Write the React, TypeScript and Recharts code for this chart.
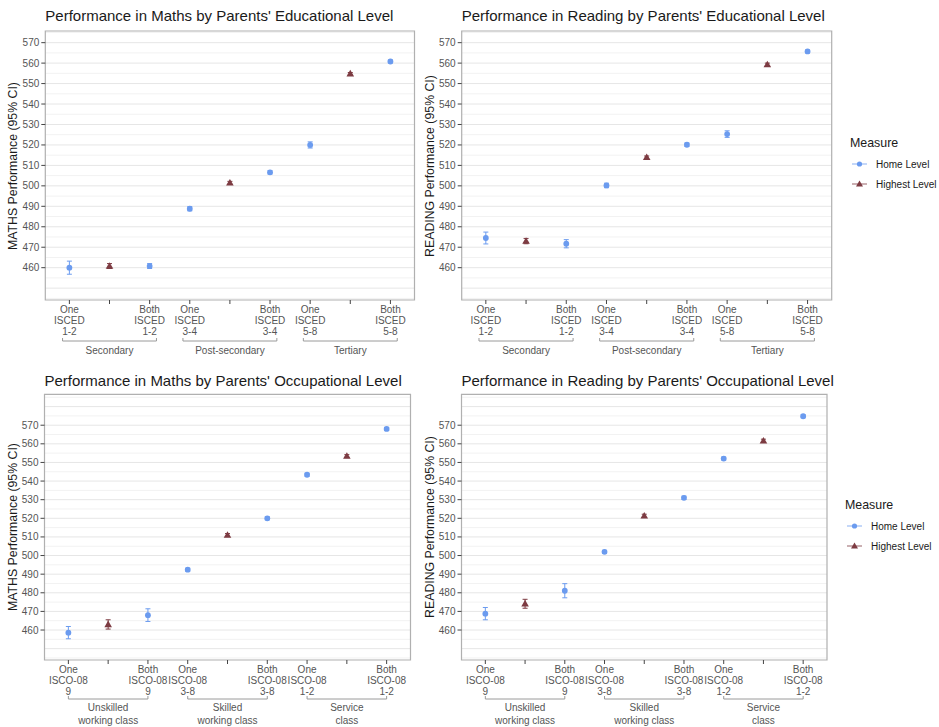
import React from 'react';
import {
  ScatterChart,
  Scatter,
  XAxis,
  YAxis,
  CartesianGrid,
  ErrorBar,
  ReferenceArea,
  Legend,
} from 'recharts';

// ---------- data ----------
const eduTickLabels = [
  'One\nISCED\n1-2', '', 'Both\nISCED\n1-2',
  'One\nISCED\n3-4', '', 'Both\nISCED\n3-4',
  'One\nISCED\n5-8', '', 'Both\nISCED\n5-8',
];
const eduGroups = ['Secondary', 'Post-secondary', 'Tertiary'];

const occTickLabels = [
  'One\nISCO-08\n9', '', 'Both\nISCO-08\n9',
  'One\nISCO-08\n3-8', '', 'Both\nISCO-08\n3-8',
  'One\nISCO-08\n1-2', '', 'Both\nISCO-08\n1-2',
];
const occGroups = ['Unskilled\nworking class', 'Skilled\nworking class', 'Service\nclass'];

const yTickValues = [460, 470, 480, 490, 500, 510, 520, 530, 540, 550, 560, 570];
const minorTopValues = [445, 455, 465, 475, 485, 495, 505, 515, 525, 535, 545, 555, 565, 575];
const majorTopValues = [450, 460, 470, 480, 490, 500, 510, 520, 530, 540, 550, 560, 570];
const minorBottomValues = [445, 455, 465, 475, 485, 495, 505, 515, 525, 535, 545, 555, 565, 575, 585];
const majorBottomValues = [450, 460, 470, 480, 490, 500, 510, 520, 530, 540, 550, 560, 570, 580];

const seriesNames = ['Home Level', 'Highest Level'];

const mathsEduHome = [460.0, null, 460.8, 488.8, null, 506.6, 520.0, null, 560.8];
const mathsEduHomeCI = [3.2, null, 1.2, 1.0, null, 0.8, 1.5, null, 0.7];
const mathsEduHighest = [null, 460.8, null, null, 501.5, null, null, 554.8, null];
const mathsEduHighestCI = [null, 1.2, null, null, 0.7, null, null, 0.6, null];

const readingEduHome = [474.5, null, 471.7, 500.2, null, 520.1, 525.3, null, 565.7];
const readingEduHomeCI = [2.9, null, 2.0, 1.1, null, 0.8, 1.6, null, 0.7];
const readingEduHighest = [null, 473.0, null, null, 513.9, null, null, 559.3, null];
const readingEduHighestCI = [null, 1.3, null, null, 0.7, null, null, 0.7, null];

const mathsOccHome = [458.6, null, 468.0, 492.4, null, 520.0, 543.4, null, 568.0];
const mathsOccHomeCI = [3.3, null, 3.4, 0.8, null, 0.8, 0.8, null, 0.8];
const mathsOccHighest = [null, 463.0, null, null, 511.0, null, null, 553.4, null];
const mathsOccHighestCI = [null, 2.5, null, null, 0.8, null, null, 0.8, null];

const readingOccHome = [468.8, null, 481.1, 502.0, null, 531.0, 552.1, null, 574.8];
const readingOccHomeCI = [3.3, null, 3.8, 0.8, null, 0.9, 0.8, null, 0.8];
const readingOccHighest = [null, 474.1, null, null, 521.3, null, null, 561.6, null];
const readingOccHighestCI = [null, 2.4, null, null, 0.9, null, null, 0.9, null];

// ---------- styles ----------
const FONT = '"Liberation Sans", Arial, sans-serif';
const HOME_COLOR = '#6b9bef';
const HIGH_COLOR = '#7d3b42';
const TEXT_DARK = '#1a1a1a';
const TEXT_GRAY = '#555555';
const X_DOMAIN: [number, number] = [0.4, 9.6];
const X_TICKS = [1, 2, 3, 4, 5, 6, 7, 8, 9];

type Pt = { x: number; y: number; err: number };
const toPoints = (vals: (number | null)[], ci: (number | null)[]): Pt[] =>
  vals
    .map((v, i) => (v == null ? null : { x: i + 1, y: v, err: ci[i] ?? 0 }))
    .filter((p): p is Pt => p !== null);

const CircleShape = (p: any) =>
  p.cx == null || p.cy == null ? <g /> : <circle cx={p.cx} cy={p.cy} r={2.9} fill={HOME_COLOR} />;

const TriangleShape = (p: any) => {
  if (p.cx == null || p.cy == null) return <g />;
  const { cx, cy } = p;
  return (
    <polygon
      points={`${cx},${cy - 3.9} ${cx - 3.8},${cy + 2.7} ${cx + 3.8},${cy + 2.7}`}
      fill={HIGH_COLOR}
    />
  );
};

const LegendContent = (props: any) => {
  const payload = [...(props.payload || [])].sort(
    (a: any, b: any) => seriesNames.indexOf(a.value) - seriesNames.indexOf(b.value),
  );
  return (
    <svg width={100} height={60} style={{ overflow: 'visible' }}>
      <text x={0} y={8} dominantBaseline="central" fontFamily={FONT} fontSize={12.4} fill={TEXT_DARK}>
        Measure
      </text>
      {payload.map((entry: any, i: number) => {
        const cy = 29 + i * 20;
        const isHome = entry.value === seriesNames[0];
        const col = isHome ? HOME_COLOR : HIGH_COLOR;
        return (
          <g key={entry.value}>
            <line x1={2} x2={17} y1={cy} y2={cy} stroke={col} strokeWidth={1} strokeOpacity={0.8} />
            {isHome ? (
              <circle cx={9.5} cy={cy} r={2.6} fill={col} />
            ) : (
              <polygon points={`9.5,${cy - 3.5} 6,${cy + 2.4} 13,${cy + 2.4}`} fill={col} />
            )}
            <text x={26} y={cy} dominantBaseline="central" fontFamily={FONT} fontSize={10} fill={TEXT_DARK}>
              {entry.value}
            </text>
          </g>
        );
      })}
    </svg>
  );
};

type PanelProps = {
  left: number;
  top: number;
  width: number;
  height: number;
  plotLeft: number;
  plotRight: number;
  plotTop: number;
  plotBottom: number;
  titleY: number;
  yLabelX: number;
  title: string;
  yLabel: string;
  tickLabels: string[];
  groups: string[];
  bracketExt: number;
  bracketOffset: number;
  groupOffset: number;
  yDomain: [number, number];
  minorValues: number[];
  majorValues: number[];
  home: (number | null)[];
  homeCI: (number | null)[];
  highest: (number | null)[];
  highestCI: (number | null)[];
  legend?: { left: number; top: number };
};

const Panel = (p: PanelProps) => {
  const plotW = p.plotRight - p.plotLeft;
  const step = plotW / (X_DOMAIN[1] - X_DOMAIN[0]);
  const homePts = toPoints(p.home, p.homeCI);
  const highPts = toPoints(p.highest, p.highestCI);

  const XTick = (tp: any) => {
    const { x, y, payload } = tp;
    const idx = Math.round(payload.value) - 1;
    const lines = (p.tickLabels[idx] || '').split('\n').filter((s) => s.length > 0);
    const isMid = idx % 3 === 1;
    const group = p.groups[Math.floor(idx / 3)] || '';
    const gLines = group.split('\n');
    const by = y + p.bracketOffset;
    const bx1 = x - step - p.bracketExt * step;
    const bx2 = x + step + p.bracketExt * step;
    return (
      <g>
        <text textAnchor="middle" fontFamily={FONT} fontSize={10} fill={TEXT_GRAY}>
          {lines.map((l, i) => (
            <tspan key={i} x={x} y={y + 6.8 + i * 11}>
              {l}
            </tspan>
          ))}
        </text>
        {isMid && (
          <g>
            <path
              d={`M${bx1},${by - 3} L${bx1},${by} L${bx2},${by} L${bx2},${by - 3}`}
              fill="none"
              stroke="#9a9a9a"
              strokeWidth={1}
            />
            <text textAnchor="middle" fontFamily={FONT} fontSize={10} fill={TEXT_GRAY}>
              {gLines.map((l, i) => (
                <tspan key={i} x={x} y={y + p.groupOffset + i * 13}>
                  {l}
                </tspan>
              ))}
            </text>
          </g>
        )}
      </g>
    );
  };

  return (
    <div style={{ position: 'absolute', left: p.left, top: p.top, width: p.width, height: p.height }}>
      <div
        style={{
          position: 'absolute',
          left: p.plotLeft,
          top: p.titleY - 9,
          lineHeight: '18px',
          fontFamily: FONT,
          fontSize: 15,
          color: TEXT_DARK,
          whiteSpace: 'nowrap',
          zIndex: 2,
        }}
      >
        {p.title}
      </div>
      <div
        style={{
          position: 'absolute',
          left: p.yLabelX,
          top: (p.plotTop + p.plotBottom) / 2,
          transform: 'translate(-50%, -50%) rotate(-90deg)',
          fontFamily: FONT,
          fontSize: 12.3,
          color: TEXT_DARK,
          whiteSpace: 'nowrap',
          zIndex: 2,
        }}
      >
        {p.yLabel}
      </div>
      <ScatterChart
        width={p.width}
        height={p.height}
        margin={{ top: p.plotTop, right: p.width - p.plotRight, bottom: 0, left: 0 }}
        style={{ overflow: 'visible' }}
      >
        <CartesianGrid vertical={false} horizontalValues={p.minorValues} stroke="#f2f2f2" strokeWidth={1} />
        <CartesianGrid vertical={false} horizontalValues={p.majorValues} stroke="#e6e6e6" strokeWidth={1} />
        <XAxis
          type="number"
          dataKey="x"
          domain={X_DOMAIN}
          ticks={X_TICKS}
          interval={0}
          allowDataOverflow
          height={p.height - p.plotBottom}
          axisLine={false}
          tickLine={{ stroke: '#444444' }}
          tickSize={4}
          tickMargin={2}
          tick={XTick}
        />
        <YAxis
          type="number"
          dataKey="y"
          domain={p.yDomain}
          ticks={yTickValues}
          interval={0}
          allowDataOverflow
          width={p.plotLeft}
          axisLine={false}
          tickLine={{ stroke: '#444444' }}
          tickSize={4}
          tickMargin={2}
          tick={{ fontFamily: FONT, fontSize: 10, fill: TEXT_GRAY }}
        />
        <ReferenceArea
          x1={X_DOMAIN[0]}
          x2={X_DOMAIN[1]}
          y1={p.yDomain[0]}
          y2={p.yDomain[1]}
          fill="none"
          stroke="#b0b0b0"
          strokeWidth={1.2}
          ifOverflow="visible"
        />
        <Scatter
          name={seriesNames[0]}
          data={homePts}
          fill={HOME_COLOR}
          shape={CircleShape}
          isAnimationActive={false}
        >
          <ErrorBar dataKey="err" direction="y" width={2.5} stroke={HOME_COLOR} strokeWidth={1} />
        </Scatter>
        <Scatter
          name={seriesNames[1]}
          data={highPts}
          fill={HIGH_COLOR}
          shape={TriangleShape}
          isAnimationActive={false}
        >
          <ErrorBar dataKey="err" direction="y" width={2.5} stroke={HIGH_COLOR} strokeWidth={1} />
        </Scatter>
        {p.legend && (
          <Legend
            layout="vertical"
            align="center"
            verticalAlign="middle"
            content={LegendContent}
            wrapperStyle={{ left: p.legend.left, top: p.legend.top, width: 100, height: 60 }}
          />
        )}
      </ScatterChart>
    </div>
  );
};

export default function App() {
  return (
    <div style={{ position: 'absolute', left: 0, top: 0, width: 939, height: 727, background: '#ffffff' }}>
      <Panel
        left={0}
        top={0}
        width={420}
        height={365}
        plotLeft={45.3}
        plotRight={414.5}
        plotTop={31}
        plotBottom={300}
        titleY={16}
        yLabelX={13.3}
        title="Performance in Maths by Parents' Educational Level"
        yLabel="MATHS Performance (95% CI)"
        tickLabels={eduTickLabels}
        groups={eduGroups}
        bracketExt={0.17}
        bracketOffset={35}
        groupOffset={47.5}
        yDomain={[444.2, 575.7]}
        minorValues={minorTopValues}
        majorValues={majorTopValues}
        home={mathsEduHome}
        homeCI={mathsEduHomeCI}
        highest={mathsEduHighest}
        highestCI={mathsEduHighestCI}
      />
      <Panel
        left={420}
        top={0}
        width={519}
        height={365}
        plotLeft={41.7}
        plotRight={411.7}
        plotTop={31}
        plotBottom={300}
        titleY={16}
        yLabelX={10}
        title="Performance in Reading by Parents' Educational Level"
        yLabel="READING Performance (95% CI)"
        tickLabels={eduTickLabels}
        groups={eduGroups}
        bracketExt={0.17}
        bracketOffset={35}
        groupOffset={47.5}
        yDomain={[444.2, 575.7]}
        minorValues={minorTopValues}
        majorValues={majorTopValues}
        home={readingEduHome}
        homeCI={readingEduHomeCI}
        highest={readingEduHighest}
        highestCI={readingEduHighestCI}
        legend={{ left: 430, top: 135 }}
      />
      <Panel
        left={0}
        top={365}
        width={420}
        height={362}
        plotLeft={44.5}
        plotRight={410.5}
        plotTop={29.3}
        plotBottom={295}
        titleY={15.7}
        yLabelX={13.3}
        title="Performance in Maths by Parents' Occupational Level"
        yLabel="MATHS Performance (95% CI)"
        tickLabels={occTickLabels}
        groups={occGroups}
        bracketExt={0}
        bracketOffset={33}
        groupOffset={45.3}
        yDomain={[443.9, 586.6]}
        minorValues={minorBottomValues}
        majorValues={majorBottomValues}
        home={mathsOccHome}
        homeCI={mathsOccHomeCI}
        highest={mathsOccHighest}
        highestCI={mathsOccHighestCI}
      />
      <Panel
        left={420}
        top={365}
        width={519}
        height={362}
        plotLeft={41.5}
        plotRight={407}
        plotTop={29.3}
        plotBottom={295}
        titleY={15.7}
        yLabelX={10}
        title="Performance in Reading by Parents' Occupational Level"
        yLabel="READING Performance (95% CI)"
        tickLabels={occTickLabels}
        groups={occGroups}
        bracketExt={0}
        bracketOffset={33}
        groupOffset={45.3}
        yDomain={[443.9, 586.6]}
        minorValues={minorBottomValues}
        majorValues={majorBottomValues}
        home={readingOccHome}
        homeCI={readingOccHomeCI}
        highest={readingOccHighest}
        highestCI={readingOccHighestCI}
        legend={{ left: 425, top: 132 }}
      />
    </div>
  );
}
